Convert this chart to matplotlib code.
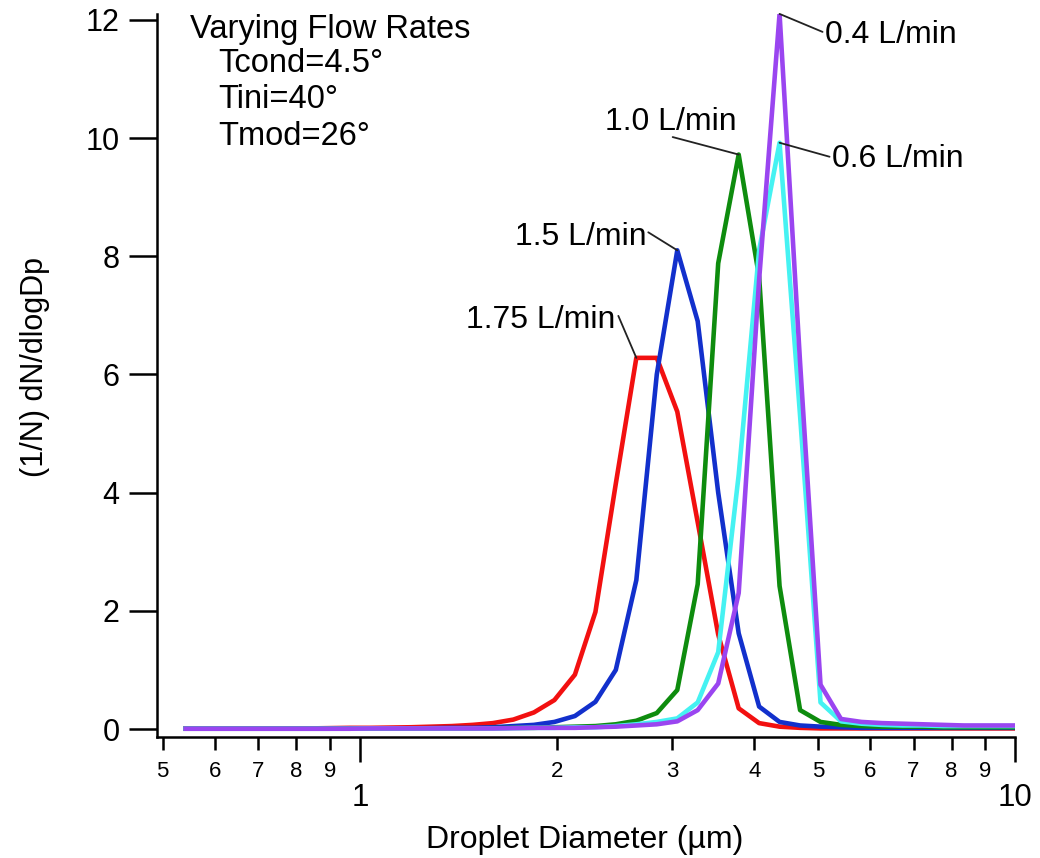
import matplotlib
matplotlib.use("Agg")
import matplotlib.pyplot as plt
from matplotlib.ticker import FixedLocator, FixedFormatter
import numpy as np

plt.rcParams['font.family'] = ['Liberation Sans', 'DejaVu Sans']

# ---------------- data ----------------
diameter_um = [0.542, 0.583, 0.626, 0.673, 0.723, 0.777, 0.835, 0.898, 0.965, 1.037,
               1.114, 1.197, 1.286, 1.382, 1.486, 1.596, 1.715, 1.843, 1.981, 2.129,
               2.288, 2.458, 2.642, 2.839, 3.051, 3.278, 3.523, 3.786, 4.068, 4.371,
               4.698, 5.048, 5.425, 5.829, 6.264, 6.732, 7.234, 7.774, 8.354, 8.977,
               9.647, 10.37]

flow_175 = [0.01, 0.01, 0.01, 0.01, 0.01, 0.01, 0.01, 0.015, 0.02, 0.02,
            0.025, 0.03, 0.04, 0.05, 0.07, 0.10, 0.16, 0.28, 0.49, 0.92,
            1.98, 4.15, 6.28, 6.28, 5.37, 3.50, 1.60, 0.35, 0.10, 0.04,
            0.02, 0.01, 0.01, 0.01, 0.01, 0.01, 0.01, 0.01, 0.01, 0.01,
            0.01, 0.01]
flow_15 = [0.005, 0.005, 0.005, 0.005, 0.005, 0.005, 0.005, 0.005, 0.01, 0.01,
           0.01, 0.01, 0.015, 0.02, 0.02, 0.03, 0.05, 0.07, 0.12, 0.22,
           0.46, 1.00, 2.52, 6.00, 8.10, 6.90, 4.00, 1.62, 0.38, 0.12,
           0.06, 0.04, 0.03, 0.02, 0.02, 0.02, 0.02, 0.02, 0.02, 0.02,
           0.02, 0.02]
flow_10 = [0.005, 0.005, 0.005, 0.005, 0.005, 0.005, 0.005, 0.005, 0.005, 0.01,
           0.01, 0.01, 0.01, 0.01, 0.01, 0.015, 0.02, 0.02, 0.03, 0.04,
           0.05, 0.08, 0.14, 0.27, 0.66, 2.45, 7.88, 9.72, 7.65, 2.42,
           0.32, 0.12, 0.07, 0.05, 0.04, 0.04, 0.04, 0.03, 0.03, 0.03,
           0.03, 0.03]
flow_06 = [0.005, 0.005, 0.005, 0.005, 0.005, 0.005, 0.005, 0.005, 0.005, 0.01,
           0.01, 0.01, 0.01, 0.01, 0.01, 0.01, 0.015, 0.02, 0.02, 0.03,
           0.03, 0.05, 0.08, 0.12, 0.18, 0.45, 1.30, 4.30, 8.10, 9.92,
           5.30, 0.45, 0.13, 0.09, 0.07, 0.06, 0.06, 0.05, 0.05, 0.05,
           0.05, 0.05]
flow_04 = [0.005, 0.005, 0.005, 0.005, 0.005, 0.005, 0.005, 0.005, 0.005, 0.01,
           0.01, 0.01, 0.01, 0.01, 0.01, 0.01, 0.015, 0.02, 0.02, 0.02,
           0.03, 0.04, 0.06, 0.08, 0.13, 0.32, 0.77, 2.30, 7.60, 12.10,
           6.20, 0.75, 0.17, 0.12, 0.10, 0.09, 0.08, 0.07, 0.06, 0.06,
           0.06, 0.06]

series_labels = ["1.75 L/min", "1.5 L/min", "1.0 L/min", "0.6 L/min", "0.4 L/min"]
series_colors = ["#f21010", "#1230cc", "#0e8c0e", "#45f2f2", "#9a45f0"]

y_ticks = [0, 2, 4, 6, 8, 10, 12]
x_major_ticks = [1, 10]
x_major_labels = ["1", "10"]
x_minor_ticks = [0.5, 0.6, 0.7, 0.8, 0.9, 2, 3, 4, 5, 6, 7, 8, 9]
x_minor_labels = ["5", "6", "7", "8", "9", "2", "3", "4", "5", "6", "7", "8", "9"]

info_title = "Varying Flow Rates"
info_lines = ["Tcond=4.5°", "Tini=40°", "Tmod=26°"]

# ---------------- figure ----------------
W, H = 1040, 858
fig = plt.figure(figsize=(W / 100, H / 100), dpi=100)
ax = fig.add_axes([157 / W, 1 - 737 / H, (1015 - 157) / W, (737 - 13.9) / H])

all_series = [flow_175, flow_15, flow_10, flow_06, flow_04]
for vals, col in zip(all_series, series_colors):
    ax.plot(diameter_um, vals, color=col, lw=3.3, solid_joinstyle='round')

ax.set_xscale('log')
ax.set_xlim(0.49, 10)
ax.set_ylim(-0.135, 12.1)

ax.spines['top'].set_visible(False)
ax.spines['right'].set_visible(False)
for s in ('left', 'bottom'):
    ax.spines[s].set_linewidth(1.8)

ax.yaxis.set_major_locator(FixedLocator(y_ticks))
ax.set_yticklabels([str(t) for t in y_ticks])
ax.tick_params(axis='y', which='major', direction='out', length=20, width=1.8,
               pad=7, labelsize=22)

ax.xaxis.set_major_locator(FixedLocator(x_major_ticks))
ax.xaxis.set_major_formatter(FixedFormatter(x_major_labels))
ax.xaxis.set_minor_locator(FixedLocator(x_minor_ticks))
ax.xaxis.set_minor_formatter(FixedFormatter(x_minor_labels))
ax.tick_params(axis='x', which='major', direction='out', length=18, width=1.8,
               pad=15, labelsize=22.5)
ax.tick_params(axis='x', which='minor', direction='out', length=9.5, width=1.8,
               pad=8, labelsize=16)

# axis labels
fig.text(585 / W, 1 - 848 / H, "Droplet Diameter (µm)", ha='center', va='baseline',
         fontsize=23)
fig.text(35 / W, 1 - 367 / H, "(1/N) dN/dlogDp", ha='center', va='center',
         rotation=90, fontsize=22)

# info block
fig.text(190 / W, 1 - 38 / H, info_title, ha='left', va='baseline', fontsize=23.5)
for line, base in zip(info_lines, [72, 108, 145]):
    fig.text(218 / W, 1 - base / H, line, ha='left', va='baseline', fontsize=23.5)

# peak labels with leader lines (offsets in output pixels, y up)
label_layout = {
    "1.75 L/min": dict(line=((-3, 6), (-18, 42)), text=(-21, 30), ha='right'),
    "1.5 L/min": dict(line=((-5, 3), (-29, 18)), text=(-31, 5), ha='right'),
    "1.0 L/min": dict(line=((-6, 2.5), (-66, 17.5)), text=(-134, 24.5), ha='left'),
    "0.6 L/min": dict(line=((7, 0), (50, -14)), text=(52, -24), ha='left'),
    "0.4 L/min": dict(line=((6, -2), (43, -18)), text=(45, -29), ha='left'),
}
for lab, vals in zip(series_labels, all_series):
    i = int(np.argmax(vals))
    px, py = diameter_um[i], vals[i]
    lay = label_layout[lab]
    (x0, y0), (x1, y1) = lay['line']
    ax.annotate('', xy=(px, py), xycoords='data',
                xytext=(x1, y1), textcoords='offset pixels',
                arrowprops=dict(arrowstyle='-', lw=1.3, color='#222222',
                                shrinkA=0, shrinkB=0,
                                patchA=None, patchB=None),
                annotation_clip=False)
    ax.annotate(lab, xy=(px, py), xycoords='data',
                xytext=lay['text'], textcoords='offset pixels',
                ha=lay['ha'], va='baseline', fontsize=23, annotation_clip=False)

fig.savefig("out.png", dpi=100)
